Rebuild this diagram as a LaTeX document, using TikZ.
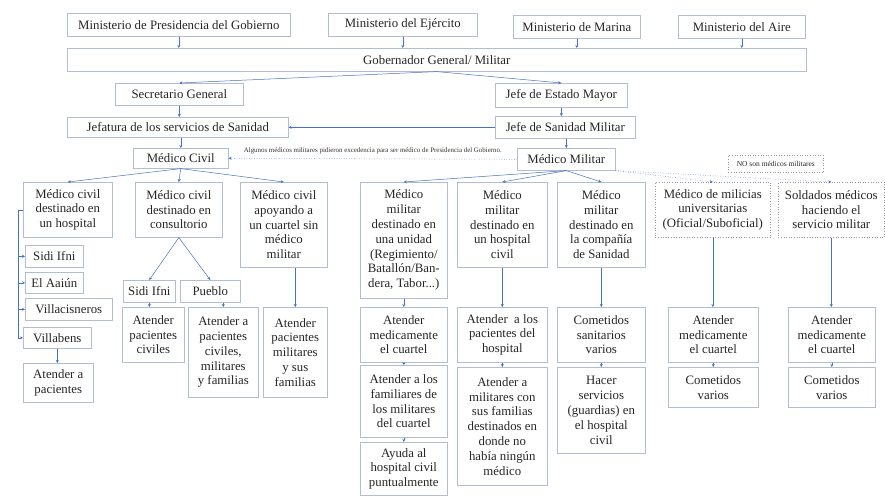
\documentclass[tikz,border=0pt]{standalone}
\usepackage{fontspec}
\setmainfont{Liberation Serif}
\usetikzlibrary{arrows.meta}
\definecolor{boxline}{RGB}{178,188,210}
\definecolor{connblue}{RGB}{68,114,196}

\begin{document}
\begin{tikzpicture}[x=1pt,y=-1pt,
  box/.style={draw=boxline, line width=.6pt, fill=white, align=center, anchor=north west,
    inner xsep=2pt, inner ysep=1pt, text=black!85, font=\fontsize{12.8}{14.8}\selectfont},
  dotbox/.style={box, dotted, draw=black!40},
  conn/.style={draw=connblue, line width=.5pt, -{Stealth[length=3pt,width=3pt]}},
  >={Stealth[length=3pt,width=3pt]}]
\useasboundingbox[fill=white] (0,0) rectangle (885,496);
\node[box, minimum width=223pt, minimum height=23pt] (minpres) at (67,13) {Ministerio de Presidencia del Gobierno};
\node[box, minimum width=149pt, minimum height=23pt] (minejer) at (328,13) {Ministerio del Ejército};
\node[box, minimum width=127pt, minimum height=23pt] (minmar) at (513,15) {Ministerio de Marina};
\node[box, minimum width=127pt, minimum height=23pt] (minaire) at (678,15) {Ministerio del Aire};
\node[box, minimum width=739pt, minimum height=23pt] (gob) at (67,48) {Gobernador General/ Militar};
\node[box, minimum width=128pt, minimum height=22pt] (secgen) at (115,83) {Secretario General};
\node[box, minimum width=132pt, minimum height=24pt] (jem) at (495,83) {Jefe de Estado Mayor};
\node[box, minimum width=221pt, minimum height=20pt] (jefsan) at (67,117) {Jefatura de los servicios de Sanidad};
\node[box, minimum width=140pt, minimum height=22pt] (jsm) at (495,116) {Jefe de Sanidad Militar};
\node[box, minimum width=95pt, minimum height=20pt] (mciv) at (133,148) {Médico Civil};
\node[box, minimum width=98pt, minimum height=22pt] (mmil) at (517,148) {Médico Militar};
\node[dotbox, minimum width=95pt, minimum height=17pt, font=\fontsize{7.5}{9}\selectfont] (nosom) at (728,155) {NO son médicos militares};

\node[box, minimum width=89pt, minimum height=55pt] (chosp) at (23,182) {Médico civil\\destinado en\\un hospital};
\node[box, minimum width=87pt, minimum height=55pt] (ccons) at (135,182) {Médico civil\\destinado en\\consultorio};
\node[box, minimum width=87pt, minimum height=85pt] (ccuar) at (240,182) {Médico civil\\apoyando a\\un cuartel sin\\médico\\militar};
\node[box, minimum width=58pt, minimum height=22pt] (ifni) at (25,245) {Sidi Ifni};
\node[box, minimum width=58pt, minimum height=21pt] (aaiun) at (25,272) {El Aaiún};
\node[box, minimum width=87pt, minimum height=22pt] (villac) at (25,298) {Villacisneros};
\node[box, minimum width=68pt, minimum height=21pt] (villab) at (23,327) {Villabens};
\node[box, minimum width=70pt, minimum height=39pt] (atpac) at (23,363) {Atender a\\pacientes};
\node[box, minimum width=52pt, minimum height=22pt] (cifni) at (123,280) {Sidi Ifni};
\node[box, minimum width=60pt, minimum height=22pt] (pueblo) at (180,280) {Pueblo};
\node[box, minimum width=62pt, minimum height=55pt] (atciv) at (122,307) {Atender\\pacientes\\civiles};
\node[box, minimum width=70pt, minimum height=90pt] (atcivmil) at (188,307) {Atender a\\pacientes\\civiles,\\militares\\y familias};
\node[box, minimum width=64pt, minimum height=90pt] (atmilfam) at (263,307) {Atender\\pacientes\\militares\\y sus\\familias};

\node[box, minimum width=87pt, minimum height=116pt] (munid) at (360,182) {Médico\\militar\\destinado en\\una unidad\\(Regimiento/\\Batallón/Ban-\\dera, Tabor...)};
\node[box, minimum width=90pt, minimum height=85pt] (mhosp) at (457,182) {Médico\\militar\\destinado en\\un hospital\\civil};
\node[box, minimum width=88pt, minimum height=85pt] (mcomp) at (557,182) {Médico\\militar\\destinado en\\la compañía\\de Sanidad};
\node[dotbox, minimum width=115pt, minimum height=55pt] (milic) at (655,182) {Médico de milicias\\universitarias\\(Oficial/Suboficial)};
\node[dotbox, minimum width=106pt, minimum height=55pt] (sold) at (778,182) {Soldados médicos\\haciendo el\\servicio militar};

\node[box, minimum width=87pt, minimum height=55pt] (uni1) at (360,307) {Atender\\medicamente\\el cuartel};
\node[box, minimum width=87pt, minimum height=72pt] (uni2) at (360,365) {Atender a los\\familiares de\\los militares\\del cuartel};
\node[box, minimum width=87pt, minimum height=53pt] (uni3) at (360,442) {Ayuda al\\hospital civil\\puntualmente};
\node[box, minimum width=90pt, minimum height=55pt] (hos1) at (457,307) {Atender\ \ a los\\pacientes del\\hospital};
\node[box, minimum width=90pt, minimum height=118pt] (hos2) at (457,367) {Atender a\\militares con\\sus familias\\destinados en\\donde no\\había ningún\\médico};
\node[box, minimum width=88pt, minimum height=55pt] (com1) at (557,307) {Cometidos\\sanitarios\\varios};
\node[box, minimum width=88pt, minimum height=86pt] (com2) at (557,367) {Hacer\\servicios\\(guardias) en\\el hospital\\civil};
\node[box, minimum width=90pt, minimum height=55pt] (mil1) at (668,307) {Atender\\medicamente\\el cuartel};
\node[box, minimum width=90pt, minimum height=40pt] (mil2) at (668,367) {Cometidos\\varios};
\node[box, minimum width=87pt, minimum height=55pt] (sol1) at (788,307) {Atender\\medicamente\\el cuartel};
\node[box, minimum width=87pt, minimum height=40pt] (sol2) at (788,367) {Cometidos\\varios};

\foreach \n in {minpres,minejer,minmar,minaire}
  \draw[conn] (\n) -- (\n |- gob.north);
\draw[conn] (gob.south) -- (secgen.north);
\draw[conn] (gob.south) -- (jem.north);
\draw[conn] (secgen) -- (secgen |- jefsan.north);
\draw[conn] (jem) -- (jem |- jsm.north);
\draw[conn] (jsm.west) -- (jefsan.east);
\draw[conn] (jefsan.south -| mciv) -- (mciv.north);
\draw[conn] (jsm.south -| mmil) -- (mmil.north);
\draw[conn, dotted] (mmil.west) -- (mciv.east)
  node[midway, above=1pt, text=black!80, font=\fontsize{6.9}{8}\selectfont] (nota) {Algunos médicos militares pidieron excedencia para ser médico de Presidencia del Gobierno.};

\foreach \n in {chosp,ccons,ccuar}
  \draw[conn] (mciv.south) -- (\n.north);
\foreach \n in {ifni,aaiun,villac,villab}
  \draw[conn] (chosp.west) -- ++(-5,0) |- (\n.west);
\draw[conn] (villab) -- (villab |- atpac.north);
\draw[conn] (ccons.south) -- (cifni.north);
\draw[conn] (ccons.south) -- (pueblo.north);
\draw[conn] (cifni) -- (cifni |- atciv.north);
\draw[conn] (pueblo.south -| atcivmil) -- (atcivmil.north);
\draw[conn] (ccuar.south -| atmilfam) -- (atmilfam.north);

\foreach \n in {munid,mhosp,mcomp}
  \draw[conn] (mmil.south) -- (\n.north);
\foreach \n in {milic,sold}
  \draw[conn, dotted] (mmil.south east) -- (\n.north);
\draw[conn] (munid) -- (munid |- uni1.north);
\draw[conn] (uni1) -- (uni1 |- uni2.north);
\draw[conn] (uni2) -- (uni2 |- uni3.north);
\draw[conn] (mhosp) -- (mhosp |- hos1.north);
\draw[conn] (hos1) -- (hos1 |- hos2.north);
\draw[conn] (mcomp) -- (mcomp |- com1.north);
\draw[conn] (com1) -- (com1 |- com2.north);
\draw[conn] (milic) -- (milic |- mil1.north);
\draw[conn] (mil1) -- (mil1 |- mil2.north);
\draw[conn] (sold) -- (sold |- sol1.north);
\draw[conn] (sol1) -- (sol1 |- sol2.north);
\end{tikzpicture}
\end{document}
